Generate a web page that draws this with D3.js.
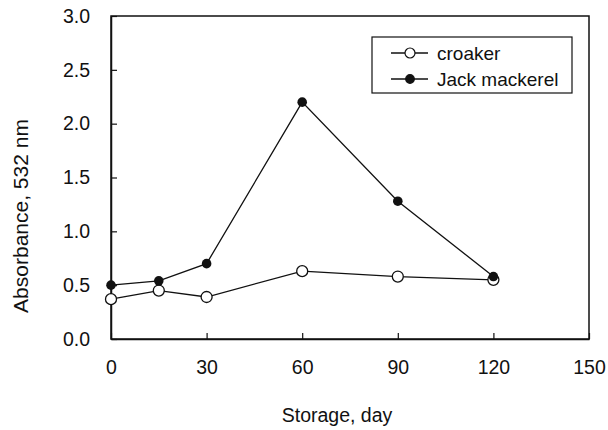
<!DOCTYPE html>
<html>
<head>
<meta charset="utf-8">
<script src="https://cdn.jsdelivr.net/npm/d3@7"></script>
<style>
  body { margin: 0; background: #fff; }
  text { font-family: "Liberation Sans", Arial, sans-serif; fill: #111; }
</style>
</head>
<body>
<svg id="chart"></svg>
<script>
// data
const days = [0, 15, 30, 60, 90, 120];
const croaker = [0.37, 0.45, 0.39, 0.63, 0.58, 0.55];
const jackMackerel = [0.50, 0.54, 0.70, 2.20, 1.28, 0.58];
const xTicks = [0, 30, 60, 90, 120, 150];
const yTicks = [0, 0.5, 1.0, 1.5, 2.0, 2.5, 3.0];
const seriesNames = ["croaker", "Jack mackerel"];

const W = 608, H = 430;
const m = {left: 111, right: 19, top: 16, bottom: 91};

const svg = d3.select("#chart").attr("width", W).attr("height", H);

const x = d3.scaleLinear().domain([0, 150]).range([m.left, W - m.right]);
const y = d3.scaleLinear().domain([0, 3]).range([H - m.bottom, m.top]);

// frame
svg.append("rect")
  .attr("x", x(0)).attr("y", y(3))
  .attr("width", x(150) - x(0)).attr("height", y(0) - y(3))
  .attr("fill", "none").attr("stroke", "#111").attr("stroke-width", 1.5);

// axes, ticks pointing inward
const xAxis = svg.append("g")
  .attr("transform", "translate(0," + y(0) + ")")
  .call(d3.axisBottom(x).tickValues(xTicks).tickSizeInner(-6).tickSizeOuter(0).tickPadding(21));
const yAxis = svg.append("g")
  .attr("transform", "translate(" + x(0) + ",0)")
  .call(d3.axisLeft(y).tickValues(yTicks).tickFormat(d3.format(".1f")).tickSizeInner(-6).tickSizeOuter(0).tickPadding(21));

[xAxis, yAxis].forEach(a => {
  a.select(".domain").attr("stroke", "#111").attr("stroke-width", 1.5);
  a.selectAll(".tick line").attr("stroke", "#111").attr("stroke-width", 1.2);
  a.selectAll(".tick text").style("font-size", "19.5px").attr("fill", "#111");
});

const line = d3.line().x((d, i) => x(days[i])).y(d => y(d));

// croaker (open circles)
svg.append("path").datum(croaker)
  .attr("d", line).attr("fill", "none").attr("stroke", "#111").attr("stroke-width", 1.3);
// jack mackerel (filled)
svg.append("path").datum(jackMackerel)
  .attr("d", line).attr("fill", "none").attr("stroke", "#111").attr("stroke-width", 1.3);

svg.append("g").selectAll("circle").data(croaker).join("circle")
  .attr("cx", (d, i) => x(days[i])).attr("cy", d => y(d)).attr("r", 5.5)
  .attr("fill", "#fff").attr("stroke", "#111").attr("stroke-width", 1.3);
svg.append("g").selectAll("circle").data(jackMackerel).join("circle")
  .attr("cx", (d, i) => x(days[i])).attr("cy", d => y(d)).attr("r", 4.8)
  .attr("fill", "#111");

// legend
const lg = svg.append("g");
lg.append("rect").attr("x", 372).attr("y", 37).attr("width", 200).attr("height", 56)
  .attr("fill", "#fff").attr("stroke", "#111").attr("stroke-width", 1.2);
seriesNames.forEach((name, i) => {
  const ly = 53 + i * 26;
  lg.append("line").attr("x1", 391).attr("x2", 428).attr("y1", ly).attr("y2", ly)
    .attr("stroke", "#111").attr("stroke-width", 1.3);
  lg.append("circle").attr("cx", 410).attr("cy", ly).attr("r", i === 0 ? 5 : 4.3)
    .attr("fill", i === 0 ? "#fff" : "#111").attr("stroke", "#111").attr("stroke-width", 1.2);
  lg.append("text").attr("x", 437).attr("y", ly + 6.5).style("font-size", "19px").text(name);
});

// axis titles
svg.append("text")
  .attr("x", 337).attr("y", 422)
  .attr("text-anchor", "middle").style("font-size", "19.5px")
  .text("Storage, day");
svg.append("text")
  .attr("transform", "translate(28,216) rotate(-90)")
  .attr("text-anchor", "middle").style("font-size", "21px")
  .text("Absorbance, 532 nm");
</script>
</body>
</html>
